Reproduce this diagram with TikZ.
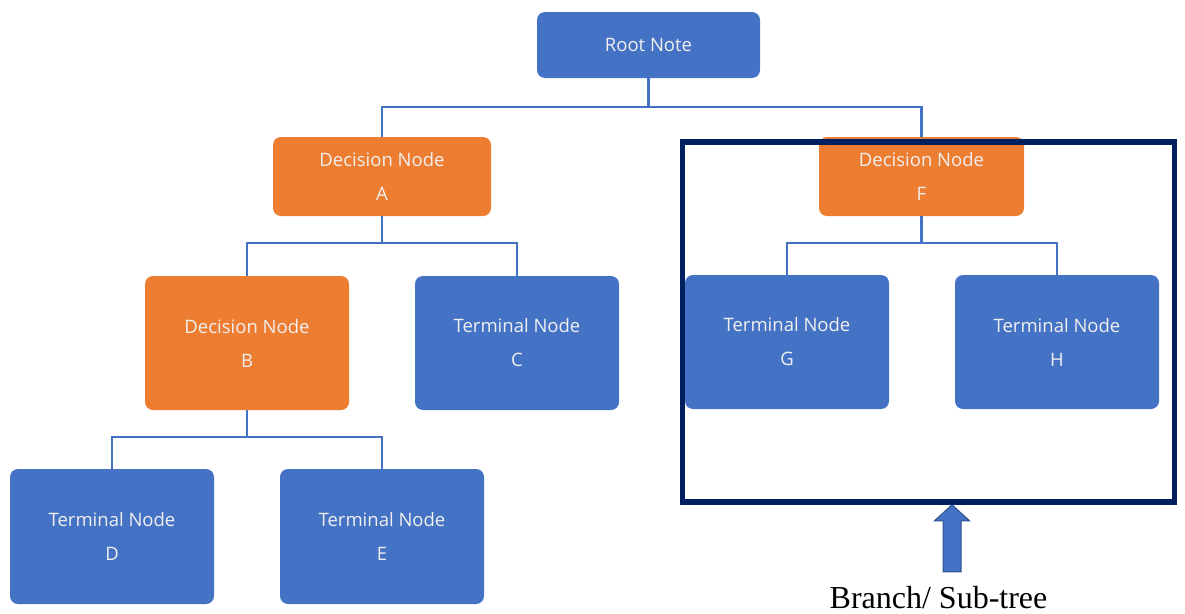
\documentclass[tikz,border=0pt]{standalone}
\usepackage{fontspec}
\setmainfont{Open Sans}
\newfontfamily\labelfont{Liberation Serif}
\usetikzlibrary{calc}
\definecolor{nodeblue}{HTML}{4472C4}
\definecolor{nodeorange}{HTML}{ED7D31}
\definecolor{navy}{HTML}{002060}
\definecolor{arrowedge}{HTML}{2F528F}
\tikzset{
  treebox/.style={rounded corners=8pt, inner sep=0pt, text=white!94!black,
    align=center, font=\fontsize{18.5}{34}\selectfont},
  decision/.style={treebox, fill=nodeorange},
  terminal/.style={treebox, fill=nodeblue},
  conn/.style={draw=nodeblue, line width=2.2pt},
  subtree/.style={draw=navy, line width=5.5pt, inner sep=0pt},
  blockarrow/.style={fill=nodeblue, draw=arrowedge, line width=1pt, line join=miter},
}
\begin{document}
\begin{tikzpicture}[x=1pt, y=-1pt]
\useasboundingbox (0,0) rectangle (1185,613);

% tree nodes
\node[terminal, minimum width=223pt, minimum height=66pt] (root) at (648.5,45) {Root Note};
\node[decision, minimum width=218pt, minimum height=79pt] (A) at (382,176.5) {Decision Node\\A};
\node[decision, minimum width=205pt, minimum height=79pt] (F) at (921.5,176.5) {Decision Node\\F};
\node[decision, minimum width=204pt, minimum height=134pt] (B) at (247,343) {Decision Node\\B};
\node[terminal, minimum width=204pt, minimum height=134pt] (C) at (517,343) {Terminal Node\\C};
\node[terminal, minimum width=204pt, minimum height=134pt] (G) at (787,342) {Terminal Node\\G};
\node[terminal, minimum width=204pt, minimum height=134pt] (H) at (1057,342) {Terminal Node\\H};
\node[terminal, minimum width=204pt, minimum height=135pt] (D) at (112,536.5) {Terminal Node\\D};
\node[terminal, minimum width=204pt, minimum height=135pt] (E) at (382,536.5) {Terminal Node\\E};

% junctions of the elbow connectors
\coordinate (rj) at ($(root.south)+(0,29)$);
\coordinate (aj) at ($(A.south)+(0,27)$);
\coordinate (fj) at ($(F.south)+(0,27)$);
\coordinate (bj) at ($(B.south)+(0,27)$);

% connectors
\draw[conn] (root.south) -- (rj);
\draw[conn] (A.north) |- (rj) -| (F.north);
\draw[conn] (A.south) -- (aj);
\draw[conn] (B.north) |- (aj) -| (C.north);
\draw[conn] (F.south) -- (fj);
\draw[conn] ([yshift=-4pt]G.north) |- (fj) -| ([yshift=-4pt]H.north);
\draw[conn] (B.south) -- (bj);
\draw[conn] (D.north) |- (bj) -| (E.north);

% sub-tree frame
\node[subtree, minimum width=492pt, minimum height=360pt] (branch) at (928.5,322) {};

% arrow pointing at the frame
\coordinate (tip) at (branch.south -| 952,0);
\draw[blockarrow] (tip) -- ++(17.5,16) -- ++(-8.5,0) -- ++(0,51) -- ++(-18,0)
  -- ++(0,-51) -- ++(-8.5,0) -- cycle;

% caption
\node[anchor=base, inner sep=0pt, font=\labelfont\fontsize{32}{36}\selectfont] (lbl)
  at (938.5,608) {Branch/ Sub-tree};
\end{tikzpicture}
\end{document}
